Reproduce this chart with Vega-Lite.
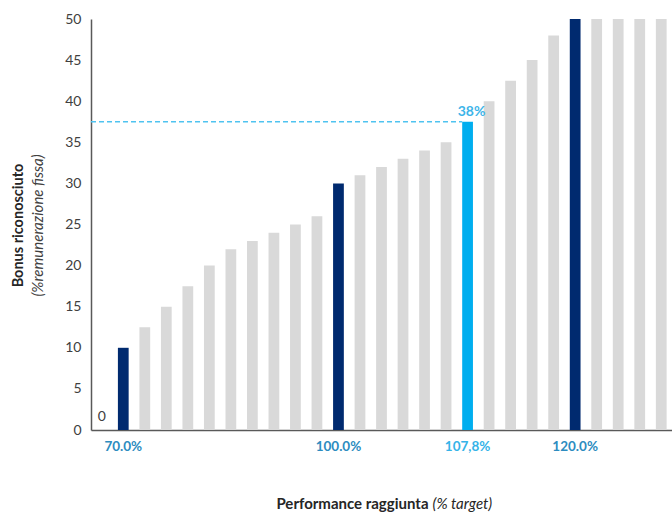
{
  "$schema": "https://vega.github.io/schema/vega-lite/v6.json",
  "width": 581,
  "height": 411,
  "autosize": {"type": "none"},
  "padding": {"left": 91, "top": 19, "right": 0, "bottom": 84},
  "background": "white",
  "config": {"view": {"stroke": null}, "font": "Lato"},
  "datasets": {
    "bars": [
      {"slot": 0, "value": 0, "kind": "base"},
      {"slot": 1, "value": 10, "kind": "key"},
      {"slot": 2, "value": 12.5, "kind": "base"},
      {"slot": 3, "value": 15, "kind": "base"},
      {"slot": 4, "value": 17.5, "kind": "base"},
      {"slot": 5, "value": 20, "kind": "base"},
      {"slot": 6, "value": 22, "kind": "base"},
      {"slot": 7, "value": 23, "kind": "base"},
      {"slot": 8, "value": 24, "kind": "base"},
      {"slot": 9, "value": 25, "kind": "base"},
      {"slot": 10, "value": 26, "kind": "base"},
      {"slot": 11, "value": 30, "kind": "key"},
      {"slot": 12, "value": 31, "kind": "base"},
      {"slot": 13, "value": 32, "kind": "base"},
      {"slot": 14, "value": 33, "kind": "base"},
      {"slot": 15, "value": 34, "kind": "base"},
      {"slot": 16, "value": 35, "kind": "base"},
      {"slot": 17, "value": 37.5, "kind": "actual"},
      {"slot": 18, "value": 40, "kind": "base"},
      {"slot": 19, "value": 42.5, "kind": "base"},
      {"slot": 20, "value": 45, "kind": "base"},
      {"slot": 21, "value": 48, "kind": "base"},
      {"slot": 22, "value": 50, "kind": "key"},
      {"slot": 23, "value": 50, "kind": "base"},
      {"slot": 24, "value": 50, "kind": "base"},
      {"slot": 25, "value": 50, "kind": "base"},
      {"slot": 26, "value": 50, "kind": "base"}
    ],
    "guide": [
      {"from": 0, "to": 17}
    ]
  },
  "data": {"name": "bars"},
  "resolve": {"axis": {"x": "independent", "y": "independent"}},
  "layer": [
    {
      "mark": {"type": "bar"},
      "encoding": {
        "x": {
          "field": "slot",
          "type": "ordinal",
          "scale": {"paddingInner": 0.5, "paddingOuter": 0.25},
          "axis": {
            "orient": "bottom",
            "labelExpr": "datum.value == 1 ? '70.0%' : datum.value == 11 ? '100.0%' : datum.value == 17 ? '107,8%' : datum.value == 22 ? '120.0%' : ''",
            "labelAngle": 0,
            "labelFontSize": 13.5,
            "labelFontWeight": "bold",
            "labelColor": {"expr": "datum.value == 17 ? '#35B3E8' : '#2D8CC0'"},
            "labelPadding": 9,
            "ticks": false,
            "domainColor": "#595959",
            "domainWidth": 1.5,
            "title": "Performance raggiunta",
            "titleFontSize": 15,
            "titleFontWeight": "bold",
            "titleColor": "#262626",
            "titleX": 337,
            "titleY": 78,
            "titleAlign": "right",
            "titleBaseline": "alphabetic"
          }
        },
        "y": {
          "field": "value",
          "type": "quantitative",
          "scale": {"domain": [0, 50], "nice": false},
          "axis": {
            "orient": "left",
            "values": [0, 5, 10, 15, 20, 25, 30, 35, 40, 45, 50],
            "grid": false,
            "ticks": false,
            "domainColor": "#595959",
            "domainWidth": 1.5,
            "labelFontSize": 14,
            "labelColor": "#404040",
            "labelPadding": 10,
            "title": "(%remunerazione fissa)",
            "titleFontSize": 15,
            "titleFontStyle": "italic",
            "titleFontWeight": "normal",
            "titleColor": "#404040",
            "titleX": -54,
            "titleY": 206,
            "titleBaseline": "middle"
          }
        },
        "color": {
          "field": "kind",
          "type": "nominal",
          "scale": {"domain": ["base", "key", "actual"], "range": ["#D9D9D9", "#002A6F", "#00AEEF"]},
          "legend": null
        }
      }
    },
    {
      "transform": [{"filter": "datum.slot == 0"}],
      "mark": {"type": "text", "baseline": "bottom", "dy": -6, "fontSize": 14, "color": "#404040"},
      "encoding": {
        "x": {
          "field": "slot",
          "type": "ordinal",
          "axis": {
            "orient": "bottom",
            "labels": false,
            "ticks": false,
            "domain": false,
            "title": "(% target)",
            "titleFontSize": 15,
            "titleFontStyle": "italic",
            "titleFontWeight": "normal",
            "titleColor": "#262626",
            "titleX": 341,
            "titleY": 78,
            "titleAlign": "left",
            "titleBaseline": "alphabetic"
          }
        },
        "y": {
          "field": "value",
          "type": "quantitative",
          "axis": {
            "orient": "left",
            "labels": false,
            "ticks": false,
            "domain": false,
            "grid": false,
            "title": "Bonus riconosciuto",
            "titleFontSize": 14.5,
            "titleFontWeight": "bold",
            "titleColor": "#262626",
            "titleX": -73,
            "titleY": 206,
            "titleBaseline": "middle"
          }
        },
        "text": {"field": "value", "type": "quantitative", "format": ".0f"}
      }
    },
    {
      "data": {"name": "guide"},
      "transform": [
        {"lookup": "to", "from": {"data": {"name": "bars"}, "key": "slot", "fields": ["value"]}}
      ],
      "mark": {"type": "rule", "color": "#4FC3F0", "strokeWidth": 1.3, "strokeDash": [5, 3]},
      "encoding": {
        "x": {"field": "from", "type": "ordinal", "bandPosition": -0.5, "axis": null},
        "x2": {"field": "to", "bandPosition": 0},
        "y": {"field": "value", "type": "quantitative", "axis": null}
      }
    },
    {
      "transform": [
        {"filter": "datum.kind == 'actual'"},
        {"calculate": "format(datum.value, '.0f') + '%'", "as": "tag"}
      ],
      "mark": {"type": "text", "baseline": "bottom", "dy": -3, "dx": 4, "fontSize": 14, "fontWeight": "bold", "color": "#3DB5E9"},
      "encoding": {
        "x": {"field": "slot", "type": "ordinal", "axis": null},
        "y": {"field": "value", "type": "quantitative", "axis": null},
        "text": {"field": "tag", "type": "nominal"}
      }
    }
  ]
}
